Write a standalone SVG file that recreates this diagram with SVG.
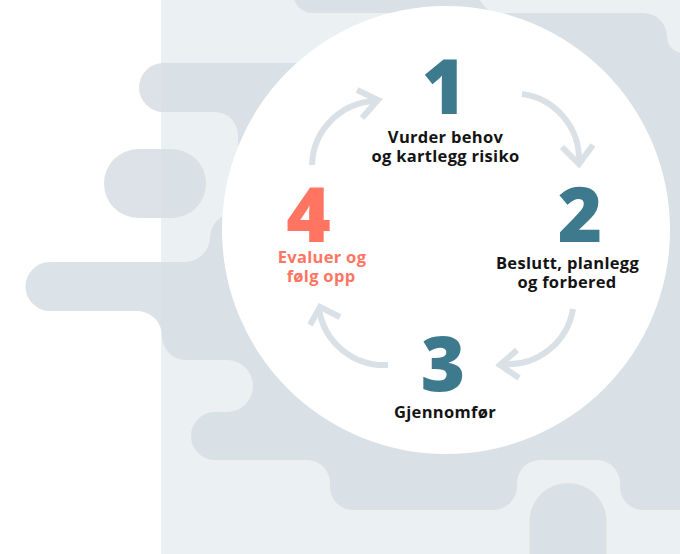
<svg xmlns="http://www.w3.org/2000/svg" width="680" height="554" viewBox="0 0 680 554">
<style>
.blob{fill:#D6DEE4}
.num{font-family:"Open Sans","Liberation Sans",sans-serif;font-weight:800;font-size:76px;text-anchor:middle}
.lbl{font-family:"Open Sans","Liberation Sans",sans-serif;font-weight:700;font-size:16.5px;letter-spacing:0.3px;text-anchor:middle;fill:#141414}
.teal{fill:#3D7A8E}
.orange{fill:#FF7562}
.arr{fill:none;stroke:#DAE1E6;stroke-width:6;stroke-linecap:butt;stroke-linejoin:miter}
</style>
<rect x="0" y="0" width="680" height="554" fill="#FFFFFF"/>
<rect x="161" y="0" width="519" height="554" fill="#EBF0F2"/>
<g id="background" opacity="0.85">
<path class="blob" d="M293 -10 L293 -7 A20 20 0 0 0 313 13 L400 13 L400 63 L163.5 63 A24.5 24.5 0 0 0 163.5 112 L215 112 A23 23 0 0 1 238 135 L238 213 L235 213 A25 25 0 0 0 210 238 A25 25 0 0 1 185 262 L50 262 A24.5 24.5 0 0 0 50 311 L137 311 A25 25 0 0 1 162 336 A24 24 0 0 0 186 360 L227 360 A26 26 0 0 1 227 412 L215 412 A24 24 0 0 0 215 460 L307 460 A23 23 0 0 1 330 483 L330 487 A23 23 0 0 0 353 510 L493 510 A24 24 0 0 0 517 486 L517 483 A23 23 0 0 1 540 460 L597 460 A23 23 0 0 1 620 483 L620 487 A23 23 0 0 0 643 510 L690 510 L690 53 L683 53 A16 16 0 0 1 667 37 L667 37 A24 24 0 0 0 643 13 L500 13 A22 22 0 0 1 478 -9 L478 -10 Z"/>
<rect class="blob" x="104" y="149" width="102" height="69" rx="34.5"/>
<rect class="blob" x="529.5" y="483" width="77" height="120" rx="38.5"/>
</g>
<circle id="hub" cx="446" cy="230" r="224" fill="#FFFFFF"/>
<g id="connectors">
<path class="arr" d="M312 165 A66 66 0 0 1 375 101"/>
<polyline class="arr" points="357,90 378,100 362,118"/>
<path class="arr" d="M522 94 A66 66 0 0 1 579 161"/>
<polyline class="arr" points="562,147 579,164 593,145"/>
<path class="arr" d="M573 309 A66 66 0 0 1 503 364"/>
<polyline class="arr" points="517,350 500,365 519,378"/>
<path class="arr" d="M388 365 A66 66 0 0 1 319 309"/>
<polyline class="arr" points="310,325 320,307 340,317"/>
</g>
<g id="step1">
<text class="num teal" x="444" y="114">1</text>
<text class="lbl" x="445.5" y="143">Vurder behov</text>
<text class="lbl" x="445.5" y="162">og kartlegg risiko</text>
</g>
<g id="step2">
<text class="num teal" x="580" y="242">2</text>
<text class="lbl" x="567.5" y="269">Beslutt, planlegg</text>
<text class="lbl" x="567" y="288">og forbered</text>
</g>
<g id="step3">
<text class="num teal" x="443" y="391">3</text>
<text class="lbl" x="445" y="418">Gjennomfør</text>
</g>
<g id="step4">
<text class="num orange" x="308.5" y="242">4</text>
<text class="lbl orange" x="322" y="263">Evaluer og</text>
<text class="lbl orange" x="321" y="282">følg opp</text>
</g>
</svg>
